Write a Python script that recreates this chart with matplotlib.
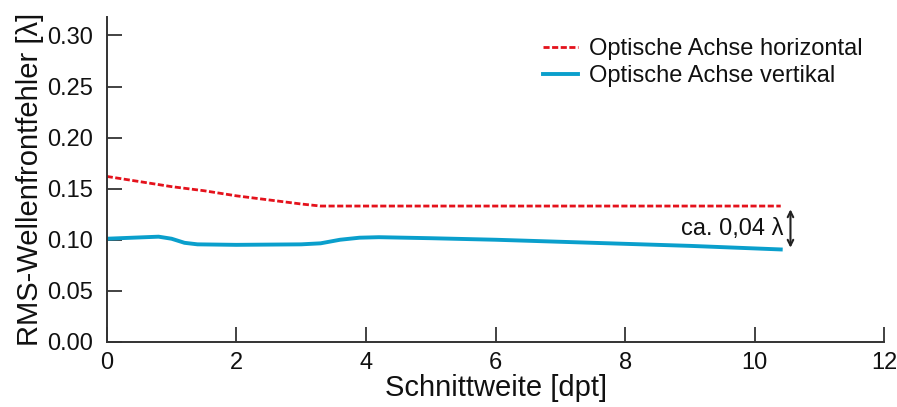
import matplotlib
matplotlib.use("Agg")
import matplotlib.pyplot as plt
import numpy as np

plt.rcParams['font.family'] = ['Liberation Sans', 'DejaVu Sans']

# Data
x_h = [0.0, 0.5, 1.0, 1.5, 2.0, 2.5, 3.0, 3.3, 3.6, 4.0, 6.0, 8.0, 10.4]
y_h = [0.162, 0.157, 0.152, 0.148, 0.143, 0.139, 0.135, 0.133, 0.133, 0.133, 0.133, 0.133, 0.133]

x_v = [0.0, 0.4, 0.8, 1.0, 1.2, 1.4, 2.0, 3.0, 3.3, 3.6, 3.9, 4.2, 5.0, 6.0, 7.0, 8.0, 9.0, 10.4]
y_v = [0.101, 0.102, 0.103, 0.101, 0.097, 0.0955, 0.095, 0.0955, 0.0965, 0.100, 0.102, 0.1025, 0.1015, 0.100, 0.098, 0.096, 0.094, 0.0905]

x_ticks = [0, 2, 4, 6, 8, 10, 12]
y_ticks = [0.00, 0.05, 0.10, 0.15, 0.20, 0.25, 0.30]

fig = plt.figure(figsize=(8.97, 4.07), dpi=100)
ax = fig.add_axes([0.119, 0.160, 0.867, 0.798])

ax.plot(x_h, y_h, color='#e4121c', lw=2.0, ls=(0, (2.2, 0.9)), label='Optische Achse horizontal')
ax.plot(x_v, y_v, color='#0a9fcc', lw=2.8, label='Optische Achse vertikal')

ax.set_xlim(0, 12)
ax.set_ylim(0, 0.318)
ax.set_xticks(x_ticks)
ax.set_yticks(y_ticks)
ax.set_yticklabels([f"{v:.2f}" for v in y_ticks])
ax.tick_params(direction='in', length=11, width=1.2, labelsize=17, colors='#222222',
               labelcolor='#111111')
ax.tick_params(axis='x', pad=7)
ax.tick_params(axis='y', pad=10)
for s in ['top', 'right']:
    ax.spines[s].set_visible(False)
for s in ['left', 'bottom']:
    ax.spines[s].set_color('#333333')
    ax.spines[s].set_linewidth(1.4)

ax.set_xlabel('Schnittweite [dpt]', fontsize=21, labelpad=0, color='#111111')
ax.set_ylabel('RMS-Wellenfrontfehler [λ]', fontsize=21, labelpad=2, color='#111111')

leg = ax.legend(loc='upper left', bbox_to_anchor=(0.561, 0.935), frameon=False, fontsize=17,
                handlelength=1.5, handletextpad=0.45, labelspacing=0.22,
                borderpad=0, borderaxespad=0)
for t in leg.get_texts():
    t.set_color('#111111')

# annotation of the difference
ax.annotate('', xy=(10.55, 0.0895), xytext=(10.55, 0.1325),
            arrowprops=dict(arrowstyle='<->', color='#222222', lw=1.5, mutation_scale=10))
ax.text(10.45, 0.111, 'ca. 0,04 λ', ha='right', va='center', fontsize=17, color='#111111')

fig.savefig('out.png', dpi=100)
